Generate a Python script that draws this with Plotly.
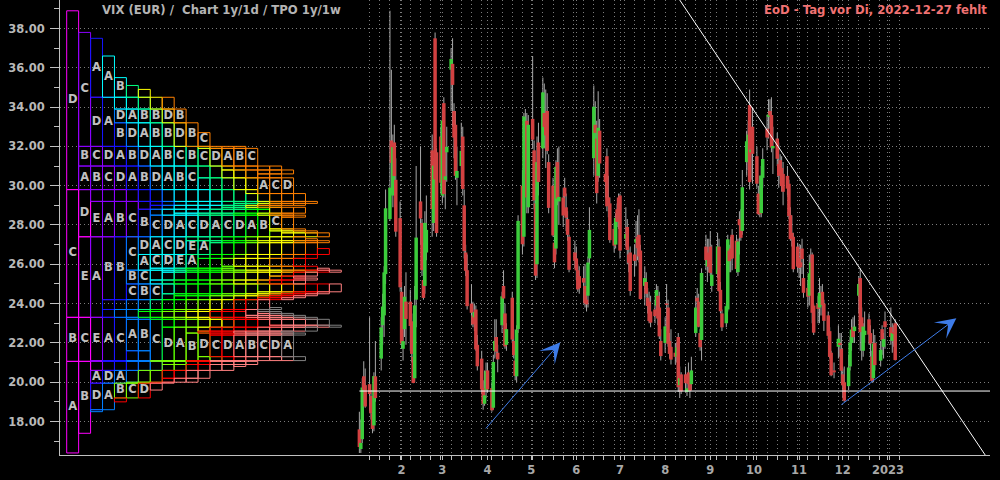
import numpy as np
import pandas as pd
import plotly.graph_objects as go

# ---------------- daily candles (open, high, low, close) per month ----------------
jan22 = [(17.60, 18.50, 16.40, 16.70), (16.60, 18.10, 16.40, 16.91), (17.10, 20.20, 16.90, 19.73),
         (20.30, 21.06, 19.08, 19.61), (19.85, 20.70, 18.70, 18.76), (19.90, 23.30, 18.50, 19.40),
         (19.30, 19.60, 18.10, 18.41), (18.40, 18.50, 17.40, 17.62), (17.80, 20.50, 17.50, 20.31),
         (20.30, 22.10, 19.00, 19.19), (21.20, 23.30, 20.60, 22.79), (22.90, 24.50, 21.90, 23.85),
         (23.40, 25.90, 22.30, 25.59), (25.50, 29.80, 25.00, 28.85), (28.30, 38.90, 28.20, 29.90),
         (32.30, 35.90, 29.60, 31.16), (29.50, 32.60, 28.90, 31.96), (32.20, 33.10, 29.50, 30.49),
         (30.30, 31.40, 27.40, 27.66), (28.35, 29.20, 24.60, 24.83)]
feb22 = [(24.60, 25.10, 21.70, 21.96), (21.70, 23.00, 21.10, 22.09), (22.70, 24.90, 22.30, 24.35),
         (24.10, 25.60, 21.90, 23.22), (24.10, 24.70, 21.60, 22.86), (23.10, 23.50, 21.00, 21.44),
         (21.30, 21.60, 19.95, 19.96), (20.20, 24.90, 20.00, 23.91), (24.20, 31.00, 22.80, 27.36),
         (29.20, 32.00, 27.00, 28.33), (28.10, 28.30, 25.40, 25.70), (25.20, 27.10, 24.20, 24.29),
         (24.90, 28.70, 24.50, 28.11), (26.60, 29.50, 26.20, 27.75), (31.80, 32.60, 27.40, 28.81),
         (28.10, 31.40, 27.70, 31.02), (37.50, 37.80, 29.80, 30.32), (31.70, 31.90, 27.40, 27.59),
         (32.50, 33.00, 29.60, 30.15)]
mar22 = [(29.50, 33.90, 29.10, 33.32), (34.20, 34.50, 29.40, 29.57), (30.30, 31.80, 28.80, 30.48),
         (31.70, 33.00, 30.20, 31.98), (35.90, 37.00, 33.80, 36.45), (36.20, 37.50, 33.00, 35.13),
         (33.80, 34.20, 31.40, 32.45), (33.10, 33.80, 30.30, 30.50), (30.40, 32.00, 29.00, 30.75),
         (31.00, 33.20, 30.10, 31.77), (32.50, 33.00, 29.50, 29.83), (29.00, 29.80, 26.30, 26.67),
         (26.60, 27.00, 25.40, 25.67), (25.70, 26.50, 23.70, 23.87), (24.00, 25.00, 22.90, 23.53),
         (23.40, 24.10, 22.80, 22.94), (23.30, 24.00, 22.60, 23.57), (23.70, 23.90, 21.60, 21.67),
         (21.90, 22.40, 20.60, 20.81), (21.20, 21.60, 19.40, 19.63), (19.70, 20.10, 18.60, 18.90),
         (18.90, 20.60, 18.80, 19.33), (19.60, 21.00, 19.20, 20.56)]
apr22 = [(20.60, 21.00, 19.50, 19.63), (19.70, 20.00, 18.50, 18.57), (18.70, 21.40, 18.60, 21.03),
         (21.60, 23.20, 21.20, 22.10), (22.30, 23.20, 21.30, 21.55), (21.50, 21.90, 20.50, 21.16),
         (22.90, 24.60, 22.50, 24.37), (24.90, 25.70, 22.90, 24.26), (23.50, 24.00, 21.70, 21.82),
         (21.90, 23.00, 21.60, 22.70), (24.30, 24.60, 22.00, 22.17), (22.10, 22.70, 21.20, 21.37),
         (21.10, 21.50, 20.10, 20.32), (20.30, 22.90, 20.00, 22.68), (22.70, 28.50, 22.50, 28.21),
         (30.00, 30.80, 26.50, 27.02), (27.40, 33.70, 26.90, 33.52), (31.20, 33.90, 30.60, 31.60),
         (33.30, 33.70, 28.60, 29.40), (28.90, 33.60, 28.60, 33.10)]
may22 = [(33.40, 36.60, 31.90, 32.34), (31.80, 32.30, 28.80, 29.25), (29.10, 30.10, 25.20, 25.42),
         (26.00, 32.50, 25.30, 31.20), (32.20, 33.20, 29.50, 30.19), (31.90, 35.50, 31.40, 34.75),
         (33.70, 35.20, 31.90, 32.99), (33.00, 34.90, 30.90, 32.56), (33.80, 34.70, 31.60, 31.77),
         (31.20, 31.60, 28.60, 28.87), (30.00, 30.40, 27.40, 27.47), (27.10, 27.50, 25.80, 26.10),
         (26.80, 31.30, 26.50, 30.96), (31.20, 31.90, 29.00, 29.35), (29.20, 32.00, 28.00, 29.43),
         (29.40, 29.90, 27.90, 28.48), (29.90, 30.40, 28.60, 29.45), (28.90, 29.60, 27.70, 28.37),
         (28.30, 28.70, 27.20, 27.50), (27.40, 27.50, 25.60, 25.72), (26.60, 27.20, 25.80, 26.19)]
jun22 = [(26.30, 26.90, 25.20, 25.69), (25.70, 26.00, 24.60, 24.72), (25.40, 25.90, 24.50, 24.79),
         (25.30, 25.90, 24.00, 25.07), (24.90, 26.00, 23.80, 24.02), (24.20, 24.60, 23.60, 23.96),
         (24.40, 26.40, 23.80, 26.09), (26.30, 28.90, 26.00, 27.75), (31.40, 35.10, 30.50, 34.02),
         (33.10, 34.30, 31.90, 32.69), (32.40, 33.30, 29.10, 29.62), (30.50, 34.80, 30.20, 32.95),
         (32.80, 33.40, 30.40, 31.13), (30.60, 31.20, 29.40, 30.19), (31.50, 31.90, 28.70, 28.95),
         (29.40, 30.50, 28.40, 29.05), (29.10, 29.40, 27.10, 27.23), (27.80, 28.10, 26.60, 26.95),
         (27.00, 28.60, 26.80, 28.36), (28.80, 29.10, 27.90, 28.16), (29.40, 29.60, 27.80, 28.71)]
jul22 = [(29.50, 29.60, 26.30, 26.70), (27.30, 28.90, 26.90, 27.54), (27.90, 28.30, 26.00, 26.73),
         (26.50, 26.80, 25.60, 26.08), (26.60, 26.90, 24.40, 24.64), (26.50, 27.00, 25.40, 26.17),
         (27.10, 28.20, 25.90, 27.29), (27.40, 28.50, 26.20, 26.82), (27.50, 28.80, 26.10, 26.40),
         (26.70, 27.00, 24.20, 24.23), (24.90, 25.90, 23.90, 25.30), (25.10, 25.60, 24.30, 24.50),
         (24.30, 24.80, 23.50, 23.88), (24.10, 24.60, 23.00, 23.11), (23.60, 24.40, 22.80, 23.03),
         (23.70, 24.20, 23.00, 23.36), (23.90, 25.00, 23.60, 24.69), (24.40, 24.90, 22.90, 23.24),
         (23.80, 24.60, 22.20, 22.33), (22.10, 22.70, 21.10, 21.33)]
aug22 = [(22.00, 23.30, 21.50, 22.84), (24.00, 25.00, 22.60, 23.93), (23.80, 24.20, 21.80, 21.95),
         (22.10, 22.50, 21.20, 21.44), (21.80, 22.70, 20.90, 21.15), (21.50, 22.00, 20.90, 21.29),
         (21.30, 22.00, 21.00, 21.77), (22.30, 22.50, 19.50, 19.74), (19.85, 20.80, 19.20, 20.20),
         (20.40, 20.50, 19.40, 19.53), (20.40, 20.80, 19.50, 19.95), (19.50, 20.40, 19.30, 19.69),
         (20.50, 21.00, 19.60, 19.90), (20.20, 20.40, 19.20, 19.56), (19.90, 21.30, 19.60, 20.60),
         (22.50, 24.40, 22.30, 23.80), (24.30, 24.80, 23.40, 24.11), (24.10, 24.50, 22.80, 22.82),
         (22.50, 22.70, 21.60, 21.78), (22.15, 25.80, 21.10, 25.56), (26.90, 27.50, 25.70, 26.21),
         (25.90, 27.30, 25.10, 26.21), (26.60, 27.30, 25.60, 25.87)]
sep22 = [(26.90, 27.70, 25.40, 25.56), (24.90, 27.00, 24.60, 25.47), (25.50, 27.60, 25.30, 26.91),
         (26.90, 27.30, 24.60, 24.64), (24.70, 25.10, 23.50, 23.61), (23.50, 23.70, 22.60, 22.79),
         (23.00, 24.00, 22.80, 23.87), (23.70, 27.50, 23.60, 27.27), (26.70, 27.00, 25.60, 26.16),
         (26.80, 27.40, 25.60, 26.27), (27.50, 27.80, 25.70, 26.30), (27.20, 27.50, 25.60, 25.76),
         (25.60, 27.30, 25.40, 27.16), (28.30, 28.70, 26.50, 27.99), (28.20, 28.80, 27.20, 27.35),
         (27.70, 30.80, 27.50, 29.92), (31.20, 32.80, 30.50, 32.26), (31.70, 33.30, 30.80, 32.60),
         (34.10, 34.90, 29.80, 30.18), (31.70, 33.00, 30.30, 31.84), (33.00, 34.00, 30.10, 31.62)]
oct22 = [(31.50, 32.00, 29.90, 30.10), (29.60, 30.00, 28.50, 28.55), (29.50, 30.50, 28.40, 28.55),
         (28.60, 31.00, 28.40, 30.52), (30.40, 31.90, 29.90, 31.36), (32.90, 33.60, 31.80, 32.45),
         (33.50, 34.40, 32.40, 33.63), (33.80, 34.40, 32.90, 33.57), (33.60, 34.50, 31.70, 31.94),
         (31.90, 33.00, 30.60, 32.02), (32.40, 32.70, 31.00, 31.37), (31.10, 32.20, 29.90, 30.50),
         (31.30, 31.60, 30.10, 30.76), (30.90, 31.50, 29.70, 29.98), (30.60, 31.20, 29.00, 29.69),
         (30.50, 31.00, 29.50, 29.85), (30.10, 30.30, 28.30, 28.46), (28.50, 28.90, 27.20, 27.28),
         (27.60, 28.50, 26.90, 27.39), (27.40, 27.60, 25.60, 25.75), (26.90, 27.10, 25.60, 25.88)]
nov22 = [(26.30, 27.00, 25.30, 25.81), (26.10, 27.00, 24.90, 25.86), (26.80, 27.30, 25.50, 26.27),
         (25.30, 26.30, 24.30, 24.55), (24.80, 25.20, 23.80, 24.35), (24.40, 26.50, 23.90, 25.54),
         (25.20, 26.80, 24.90, 26.09), (26.50, 26.60, 23.00, 23.53), (23.90, 24.00, 22.40, 22.52),
         (24.00, 24.40, 23.00, 23.73), (23.80, 25.30, 23.00, 24.54), (23.90, 24.90, 23.40, 24.11),
         (24.60, 25.00, 23.40, 23.93), (24.00, 24.20, 22.60, 23.12), (23.40, 23.60, 22.20, 22.36),
         (22.60, 22.80, 21.20, 21.29), (21.50, 21.60, 20.30, 20.35), (20.60, 21.00, 20.20, 20.50),
         (21.80, 22.90, 21.20, 22.21), (22.00, 22.50, 21.30, 21.89), (21.70, 22.50, 20.00, 20.58)]
dec22 = [(20.40, 20.70, 19.20, 19.84), (20.00, 20.80, 19.00, 19.06), (19.80, 21.40, 19.60, 20.75),
         (20.80, 22.30, 20.60, 22.01), (22.00, 23.20, 21.60, 22.68), (22.80, 23.30, 22.00, 22.29),
         (22.60, 23.40, 22.00, 22.83), (24.40, 25.40, 23.50, 25.00), (25.30, 25.80, 21.60, 22.55),
         (23.30, 23.80, 21.10, 22.66), (21.60, 23.00, 21.30, 22.83), (22.40, 23.60, 22.00, 22.62),
         (23.20, 23.50, 21.90, 22.42), (22.50, 22.90, 21.30, 21.97), (21.30, 21.60, 20.00, 20.07),
         (20.20, 22.70, 20.00, 21.97), (22.00, 22.40, 20.60, 20.87), (21.10, 22.10, 20.80, 21.65),
         (22.70, 22.90, 21.40, 22.14), (21.80, 22.50, 21.20, 22.20), (23.10, 23.60, 21.70, 22.80)]
jan23 = [(22.80, 23.80, 21.90, 22.30), (22.10, 23.00, 21.50, 22.50), (22.50, 22.90, 21.80, 22.46),
         (23.00, 23.20, 21.10, 21.13)]

months = [('2022-01', jan22), ('2022-02', feb22), ('2022-03', mar22), ('2022-04', apr22),
          ('2022-05', may22), ('2022-06', jun22), ('2022-07', jul22), ('2022-08', aug22),
          ('2022-09', sep22), ('2022-10', oct22), ('2022-11', nov22), ('2022-12', dec22),
          ('2023-01', jan23)]
holidays = ['2022-01-17', '2022-02-21', '2022-04-15', '2022-05-30', '2022-06-20', '2022-07-04',
            '2022-09-05', '2022-11-24', '2022-12-26', '2023-01-02']

# axis labels / ticks
month_ticks = ['2022-02-01', '2022-03-01', '2022-04-01', '2022-05-01', '2022-06-01', '2022-07-01',
               '2022-08-01', '2022-09-01', '2022-10-01', '2022-11-01', '2022-12-01', '2023-01-01']
month_labels = ['2', '3', '4', '5', '6', '7', '8', '9', '10', '11', '12', '2023']
week_tick_start, week_tick_end = '2022-01-10', '2023-01-09'
y_ticks = [18, 20, 22, 24, 26, 28, 30, 32, 34, 36, 38]
y_minor = [17, 19, 21, 23, 25, 27, 29, 31, 33, 35, 37, 39]

# drawn lines (date, value)
support_value = 19.55
support_start = '2022-01-03'
resistance_line = [('2022-08-11', 39.45), ('2023-03-16', 15.5)]
arrow_lines = [(('2022-03-30', 17.57), ('2022-05-21', 22.03)),
               (('2022-11-29', 18.80), ('2023-02-17', 23.25))]

title_left = 'VIX (EUR) /\u00a0 Chart 1y/1d / TPO 1y/1w'
title_right = 'EoD - Tag vor Di, 2022-12-27 fehlt'

# TPO month colours (Jan 2022 ... Jan 2023)
tpo_colors = ['#ff00ff', '#8a00ff', '#1414ff', '#0080ff', '#00ffff', '#00ff80', '#00ff00',
              '#80ff00', '#ffff00', '#ff8000', '#ff0000', '#ff8080', '#808080']

# ---------------- build the series ----------------
hol = set(pd.to_datetime(holidays))
dates, o, h, l, c = [], [], [], [], []
for ym, rows in months:
    start = pd.Timestamp(ym + '-01')
    end = start + pd.offsets.MonthEnd(0)
    days = [d for d in pd.bdate_range(start, end) if d not in hol]
    if ym == '2023-01':
        days = days[:len(rows)]
    assert len(days) == len(rows), (ym, len(days), len(rows))
    for d, (op, hi, lo, cl) in zip(days, rows):
        dates.append(d); o.append(op); h.append(hi); l.append(lo); c.append(cl)

df = pd.DataFrame({'date': dates, 'o': o, 'h': h, 'l': l, 'c': c})

fig = go.Figure()

DAY_MS = 86400000
# wicks (thin bars, drawn first so the bodies sit on top)
fig.add_trace(go.Bar(x=df.date, y=df.h - df.l, base=df.l, width=0.7 * DAY_MS,
                     marker=dict(color='#a4a4a4', line=dict(width=0)), showlegend=False,
                     hoverinfo='skip'))
# bodies
body_base = np.minimum(df.o, df.c)
body_h = np.maximum(np.abs(df.c - df.o), 0.08)
body_col = ['#3ccc3c' if cc >= oo else '#d24141' for oo, cc in zip(df.o, df.c)]
fig.add_trace(go.Bar(x=df.date, y=body_h, base=body_base, width=2.4 * DAY_MS,
                     marker=dict(color=body_col, line=dict(width=0)), showlegend=False,
                     hoverinfo='skip'))

# ---------------- TPO profile (weekly) ----------------
df['monday'] = df.date - pd.to_timedelta(df.date.dt.weekday, unit='D')
wk = df.groupby('monday').agg(h=('h', 'max'), l=('l', 'min')).reset_index()
wk_letter = [chr(65 + (m.day - 1) // 7) for m in wk.monday]
wk_cidx = [(m.year - 2022) * 12 + m.month - 1 for m in wk.monday]
bounds = np.unique(np.round(np.concatenate([wk.h.values, wk.l.values]), 3))
cols = {}
for i in range(len(bounds) - 1):
    lo, hi = bounds[i], bounds[i + 1]
    cover = [w for w in range(len(wk)) if wk.l[w] <= lo + 1e-9 and wk.h[w] >= hi - 1e-9]
    for k, w in enumerate(cover):
        cols.setdefault(k, []).append([lo, hi, w])
boxes = []
for k, lst in cols.items():
    merged = []
    for lo, hi, w in lst:
        if merged and merged[-1][2] == w and abs(merged[-1][1] - lo) < 1e-9:
            merged[-1][1] = hi
        else:
            merged.append([lo, hi, w])
    for lo, hi, w in merged:
        boxes.append((k, lo, hi, w))

for ci, col in enumerate(tpo_colors):
    bx, by = [], []
    for k, lo, hi, w in boxes:
        if wk_cidx[w] != ci:
            continue
        bx += [k, k + 1, k + 1, k, k, None]
        by += [lo, lo, hi, hi, lo, None]
    if bx:
        fig.add_trace(go.Scatter(x=bx, y=by, xaxis='x2', yaxis='y', mode='lines',
                                 line=dict(color=col, width=1), hoverinfo='skip',
                                 showlegend=False))
tx, ty, tt = [], [], []
for k, lo, hi, w in boxes:
    if hi - lo >= 0.64:
        tx.append(k + 0.5); ty.append((lo + hi) / 2); tt.append(wk_letter[w])
fig.add_trace(go.Scatter(x=tx, y=ty, text=tt, xaxis='x2', yaxis='y', mode='text',
                         textfont=dict(family='DejaVu Sans', size=11.5, color='#c0c0c0',
                                       weight='bold'),
                         hoverinfo='skip', showlegend=False))

# ---------------- axes ----------------
x_range = ['2021-06-11 09:36', '2023-03-12 02:24']
mondays = list(pd.date_range(week_tick_start, week_tick_end, freq='W-MON'))
mt = list(pd.to_datetime(month_ticks))
tickvals, ticktext = [], []
for d in sorted(set(mondays) | set(mt)):
    tickvals.append(d)
    ticktext.append(month_labels[mt.index(d)] if d in mt else '')

grid_col = '#7c7c7c'
axis_col = '#c0c0c0'
fig.update_layout(
    width=1000, height=480,
    margin=dict(l=60, r=10, t=0, b=25),
    paper_bgcolor='#000000', plot_bgcolor='#000000',
    font=dict(family='DejaVu Sans', color='#b8b8b8'),
    barmode='overlay', showlegend=False,
    xaxis=dict(type='date', range=x_range, tickmode='array', tickvals=tickvals,
               ticktext=ticktext, showgrid=True, gridcolor=grid_col, griddash='1px,3px',
               gridwidth=1, ticks='outside', ticklen=4, tickcolor=axis_col,
               showline=True, linecolor=axis_col, linewidth=1, zeroline=False,
               tickfont=dict(size=11.5, color='#a8a8a8', weight='bold')),
    xaxis2=dict(overlaying='x', range=[-0.561, 77.33], visible=False, showgrid=False,
                zeroline=False),
    yaxis=dict(range=[16.295, 39.45], tickmode='array', tickvals=y_ticks,
               ticktext=['%.2f' % v for v in y_ticks], showgrid=True, gridcolor=grid_col,
               griddash='1px,3px', ticks='outside', ticklen=9, tickcolor=axis_col,
               showline=True, linecolor=axis_col, linewidth=1, zeroline=False,
               ticklabelstandoff=3,
               tickfont=dict(size=11.5, color='#b8b8b8', weight='bold'),
               minor=dict(tickvals=y_minor, ticks='outside', ticklen=5, tickcolor=axis_col,
                          showgrid=False)),
)

# support & resistance lines
fig.add_shape(type='line', xref='x', yref='y', x0=support_start, x1=x_range[1],
              y0=support_value, y1=support_value, line=dict(color='#ffffff', width=1))
fig.add_shape(type='line', xref='x', yref='y', x0=resistance_line[0][0], y0=resistance_line[0][1],
              x1=resistance_line[1][0], y1=resistance_line[1][1],
              line=dict(color='#ffffff', width=1))

for (tail, tip) in arrow_lines:
    fig.add_annotation(x=tip[0], y=tip[1], ax=tail[0], ay=tail[1], xref='x', yref='y',
                       axref='x', ayref='y', text='', showarrow=True, arrowhead=3,
                       arrowsize=3.4, arrowwidth=1, arrowcolor='#3d7be8')

fig.add_annotation(x=40 / 930, y=1 - 10 / 455, xref='paper', yref='paper', text=title_left,
                   showarrow=False, xanchor='left', yanchor='middle',
                   font=dict(family='DejaVu Sans', size=11.7, color='#b4b4b4', weight='bold'))
fig.add_annotation(x=929 / 930, y=1 - 10 / 455, xref='paper', yref='paper', text=title_right,
                   showarrow=False, xanchor='right', yanchor='middle',
                   font=dict(family='DejaVu Sans', size=11.7, color='#f07272', weight='bold'))

fig.write_html('out.html', config={'displayModeBar': False, 'staticPlot': True},
               post_script="document.body.style.margin='0';document.body.style.padding='0';"
                           "document.body.style.overflow='hidden';")
